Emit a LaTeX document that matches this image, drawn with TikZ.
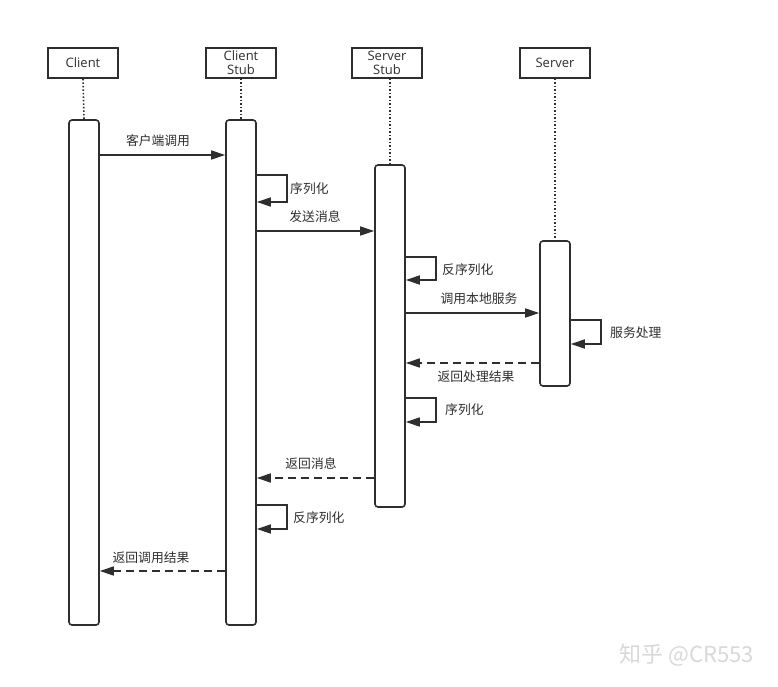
\documentclass[tikz,border=0pt]{standalone}
\usepackage{fontspec}
\setmainfont{Open Sans}
\newfontfamily\cjk{Noto Sans CJK SC}
\usetikzlibrary{arrows.meta}
\definecolor{ink}{HTML}{2E2E2E}
\definecolor{wm}{HTML}{D8D8D8}
\begin{document}
\begin{tikzpicture}[x=1pt,y=-1pt,
  head/.style={draw=ink,line width=1.6pt,minimum width=70pt,minimum height=30pt,inner sep=0pt,
    align=center,font=\fontsize{13}{14}\selectfont,text=ink},
  bar/.style={draw=ink,line width=1.6pt,fill=white,rounded corners=3pt,minimum width=30pt,inner sep=0pt},
  life/.style={draw=ink,line width=1.6pt,dash pattern=on 1.5pt off 2pt},
  msg/.style={draw=ink,line width=1.6pt,-{Triangle[length=14pt,width=9pt]}},
  ret/.style={msg,dash pattern=on 8pt off 5pt},
  lbl/.style={font=\cjk\fontsize{12.8}{14}\selectfont,text=ink,inner sep=0pt}]
\useasboundingbox (0,0) rectangle (778,687);
% headers
\node[head] (hC) at (83,63) {Client};
\node[head] (hCS) at (241,63) {Client\\Stub};
\node[head] (hSS) at (387,63) {Server\\Stub};
\node[head] (hS) at (555,63) {Server};
% activation bars
\node[bar,minimum height=505pt] (bC) at (84,372.5) {};
\node[bar,minimum height=505pt] (bCS) at (241,372.5) {};
\node[bar,minimum height=342pt] (bSS) at (390,336) {};
\node[bar,minimum height=145pt] (bS) at (555,313.5) {};
% lifelines
\draw[life] (hC.south) -- (bC.north);
\draw[life] (hCS.south) -- (bCS.north);
\draw[life] (hSS.south -| bSS.north) -- (bSS.north);
\draw[life] (hS.south) -- (bS.north);
% messages
\draw[msg] (bC.east |- 0,155) -- (bCS.west |- 0,155);
\node[lbl] (l1) at (158,141) {客户端调用};
\draw[msg] (bCS.east |- 0,175) -- ++(30,0) |- (bCS.east |- 0,202);
\node[lbl,anchor=west] (l2) at (290,189) {序列化};
\draw[msg] (bCS.east |- 0,231) -- (bSS.west |- 0,231);
\node[lbl] (l3) at (315,217) {发送消息};
\draw[msg] (bSS.east |- 0,257) -- ++(30,0) |- (bSS.east |- 0,280);
\node[lbl,anchor=west] (l4) at (442,270) {反序列化};
\draw[msg] (bSS.east |- 0,313) -- (bS.west |- 0,313);
\node[lbl] (l5) at (479,299) {调用本地服务};
\draw[msg] (bS.east |- 0,320) -- ++(30,0) |- (bS.east |- 0,344);
\node[lbl,anchor=west] (l6) at (610,333) {服务处理};
\draw[ret] (bS.west |- 0,363) -- (bSS.east |- 0,363);
\node[lbl] (l7) at (476,377) {返回处理结果};
\draw[msg] (bSS.east |- 0,398) -- ++(30,0) |- (bSS.east |- 0,422);
\node[lbl,anchor=west] (l8) at (445,410) {序列化};
\draw[ret] (bSS.west |- 0,478) -- (bCS.east |- 0,478);
\node[lbl] (l9) at (311,464) {返回消息};
\draw[msg] (bCS.east |- 0,505) -- ++(30,0) |- (bCS.east |- 0,529);
\node[lbl,anchor=west] (l10) at (293,518) {反序列化};
\draw[ret] (bCS.west |- 0,571) -- (bC.east |- 0,571);
\node[lbl] (l11) at (151,558) {返回调用结果};
% watermark
\node[font=\cjk\fontsize{22}{24}\selectfont,text=wm,inner sep=0pt] (wm) at (687,655) {知乎 @CR553};
\end{tikzpicture}
\end{document}
